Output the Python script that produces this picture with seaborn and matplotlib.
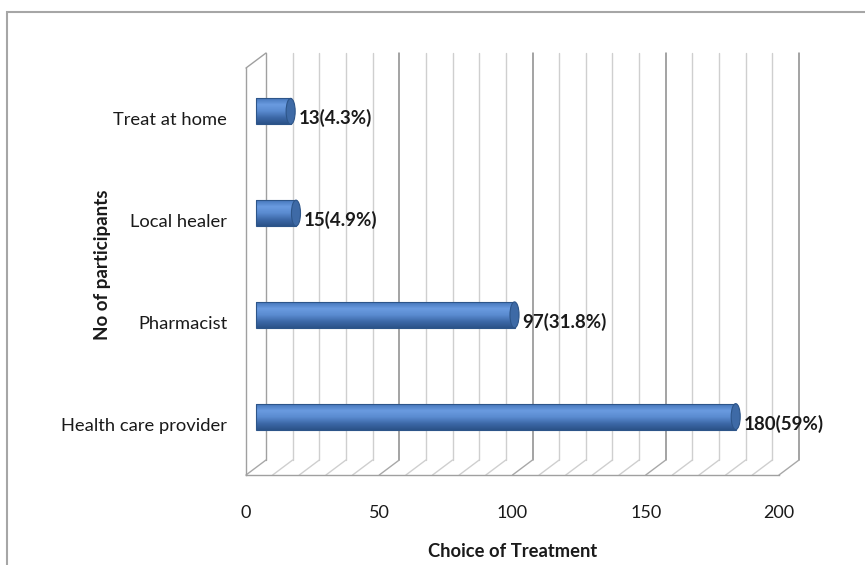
import numpy as np
import pandas as pd
import matplotlib
matplotlib.use("Agg")
import matplotlib.pyplot as plt
import matplotlib.transforms as mtransforms
from matplotlib.patches import Rectangle, Ellipse
from matplotlib.colors import LinearSegmentedColormap
import seaborn as sns

# ---- data ----
categories = ["Treat at home", "Local healer", "Pharmacist", "Health care provider"]
counts = [13, 15, 97, 180]
percents = ["4.3%", "4.9%", "31.8%", "59%"]
x_ticks = [0, 50, 100, 150, 200]
x_title = "Choice of Treatment"
y_title = "No of participants"

sns.set_style("white")
plt.rcParams["font.family"] = ["Lato", "DejaVu Sans"]

W, H, DPI = 865, 565, 100
fig = plt.figure(figsize=(W / DPI, H / DPI), dpi=DPI)
ax = fig.add_axes([246 / W, 90 / H, 533 / W, 407 / H])

df = pd.DataFrame({"category": categories, "count": counts})
sns.barplot(data=df, x="count", y="category", orient="h", color="#4f81bd",
            width=0.255, ax=ax, zorder=3)

ax.set_xlim(0, 200)
ylim = ax.get_ylim()

# depth offsets (pixels): back wall and middle (bars)
back = mtransforms.ScaledTranslation(20 / DPI, 15 / DPI, fig.dpi_scale_trans)
mid = mtransforms.ScaledTranslation(10 / DPI, 7.5 / DPI, fig.dpi_scale_trans)

# back wall gridlines
xt = ax.get_xaxis_transform()
for v in range(0, 201, 10):
    if v == 0:
        c, lw = "#a0a0a0", 1.0
    elif v % 50 == 0:
        c, lw = "#8a8a8a", 1.1
    else:
        c, lw = "#cfcfcf", 1.0
    ax.plot([v, v], [0, 1], transform=xt + back, color=c, lw=lw, clip_on=False, zorder=1)
    # floor diagonals
    ax.annotate("", xy=(v, 0), xycoords=xt, xytext=(20 * 0.72, 15 * 0.72),
                textcoords="offset points", annotation_clip=False,
                arrowprops=dict(arrowstyle="-", color=c if v % 50 else "#a8a8a8",
                                lw=1.0, shrinkA=0, shrinkB=0), zorder=1)
# left wall top diagonal
ax.annotate("", xy=(0, 1), xycoords="axes fraction", xytext=(20 * 0.72, 15 * 0.72),
            textcoords="offset points", annotation_clip=False,
            arrowprops=dict(arrowstyle="-", color="#a0a0a0", lw=1.0, shrinkA=0, shrinkB=0))

# cylinder-like bars with gradient
cmap = LinearSegmentedColormap.from_list(
    "cyl", ["#4677bb", "#6a9be0", "#5a8bd0", "#3d69a8", "#2b5288"])
grad = np.linspace(0, 1, 64).reshape(-1, 1)
for p in list(ax.patches):
    x0, y0, w, h = p.get_x(), p.get_y(), p.get_width(), p.get_height()
    tr = ax.transData + mid
    p.set_transform(tr)
    im = ax.imshow(grad, cmap=cmap, aspect="auto", extent=(x0, x0 + w, y0 + h, y0),
                   zorder=3, interpolation="bilinear")
    im.set_transform(tr)
    im.set_clip_path(p)
    p.set_facecolor("none")
    p.set_edgecolor("#2d5589")
    p.set_linewidth(0.8)
    p.set_zorder(4)
    cap = Ellipse((x0 + w, y0 + h / 2), width=3.4, height=h, transform=tr,
                  facecolor="#3e6aa6", edgecolor="#2d5589", lw=0.8, zorder=5)
    ax.add_patch(cap)

ax.set_xlim(0, 200)
ax.set_ylim(ylim)

# data labels
for i, (v, pc) in enumerate(zip(counts, percents)):
    ax.annotate(f"{v}({pc})", xy=(v, i), xycoords="data",
                xytext=(18 * 0.72, 0.5 * 0.72), textcoords="offset points",
                ha="left", va="center", fontsize=13.5, fontweight="bold",
                color="#1a1a1a", annotation_clip=False, zorder=6)

# axes styling
for s in ["top", "right"]:
    ax.spines[s].set_visible(False)
for s in ["left", "bottom"]:
    ax.spines[s].set_color("#a0a0a0")
    ax.spines[s].set_linewidth(1.0)
ax.set_xticks(x_ticks)
ax.set_xticklabels([str(t) for t in x_ticks])
ax.tick_params(axis="x", direction="out", length=5.8, width=1.0, color="#a0a0a0",
               pad=16, labelsize=13, labelcolor="#1a1a1a")
ax.tick_params(axis="y", length=0, pad=13.5, labelsize=13.2, labelcolor="#1a1a1a")
ax.grid(False)

ax.set_xlabel(x_title, fontsize=13.2, fontweight="bold", color="#1a1a1a")
ax.set_ylabel(y_title, fontsize=13.5, fontweight="bold", color="#1a1a1a")
ax.xaxis.set_label_coords(0.5, (475 - 543) / 407)
ax.yaxis.set_label_coords((111 - 246) / 533, 210 / 407)

# outer chart frame
fig.patches.append(Rectangle((7 / W, -0.2), 1.5, 1.2 - 12 / H, transform=fig.transFigure,
                             fill=False, edgecolor="#a6a6a6", lw=1.5))

fig.savefig("out.png", dpi=DPI)
